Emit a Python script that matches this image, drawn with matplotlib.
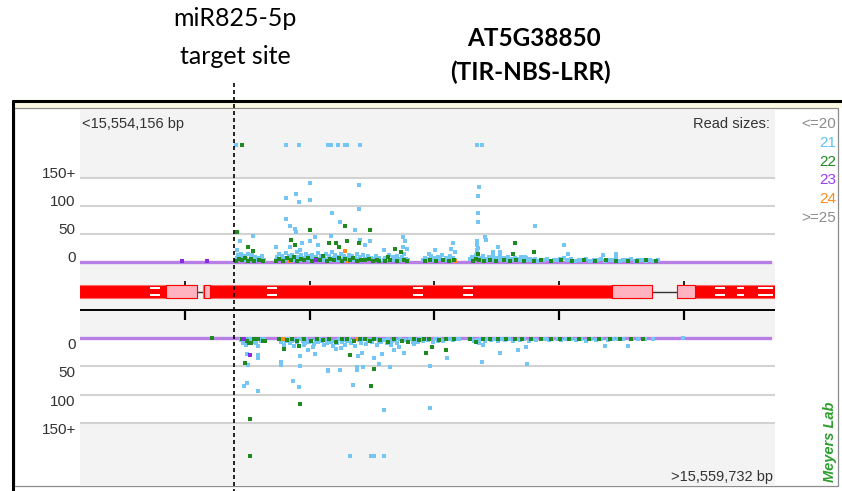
import matplotlib.pyplot as plt
import matplotlib.transforms as mtransforms
import numpy as np
from matplotlib.lines import Line2D
from matplotlib.patches import Rectangle

plt.rcParams["font.family"] = ["Liberation Sans", "DejaVu Sans"]

# ============================================================
# DATA
# ============================================================
CHROM_START = 15554156
CHROM_END = 15559732
TARGET_SITE = 15555394            # miR825-5p target site
X_TICKS = [15555000, 15556000, 15557000, 15558000, 15559000]
Y_TICKS = [0, 50, 100, 150]
Y_LABELS = ["0", "50", "100", "150+"]
CAP = 150                         # reads above this go in the "150+" row

# gene model AT5G38850, bp offsets from CHROM_START
EXON_START = [-10, 987, 4790]
EXON_END = [939, 4589, 5590]
UTR_START = [690, 995, 4268, 4790]
UTR_END = [939, 1043, 4589, 4934]
MARK_START = [562, 1500, 2672, 3070, 5095, 5271, 5440]
MARK_END = [642, 1580, 2752, 3150, 5175, 5327, 5560]

# plus strand, 21 nt (offset bp, reads)
PLUS_21_OFF = [
    1254, 1650, 1755, 1990, 2011, 2070, 2128, 2142, 2249, 3188, 3228,
    1843, 2236, 1735, 1655, 1757, 1843, 2022, 2238, 1650, 2084,
    1682, 1723, 1735, 2209, 1388, 1286, 1781, 1883, 1843, 2011,
    2244, 2284, 2329, 1575, 1909, 1763, 1682, 1262,
    3199, 3193, 3193, 3193, 2591, 2610, 2591, 2624, 2439, 2993,
    2974, 3011, 2851, 2798, 3247, 3260, 3188, 3188, 3188, 3354,
    3367, 3314, 3492, 3568, 3648, 3881, 3915, 4196, 4298,
    1250, 1262, 1270, 1281, 1290, 1300, 1312, 1322, 1335, 1346,
    1356, 1368, 1380, 1392, 1405, 1418, 1430, 1445, 1460, 1478,
    1570, 1582, 1595, 1606, 1618, 1630, 1641, 1652, 1664, 1676,
    1688, 1700, 1712, 1725, 1737, 1748, 1760, 1772, 1785, 1797,
    1810, 1822, 1835, 1847, 1860, 1872, 1885, 1897, 1910, 1922,
    1935, 1947, 1960, 1972, 1985, 1997, 2010, 2022, 2035, 2047,
    2060, 2072, 2085, 2097, 2110, 2122, 2135, 2147, 2160, 2172,
    2185, 2197, 2210, 2222, 2235, 2247, 2260, 2272, 2285, 2297,
    2310, 2322, 2335, 2347, 2360, 2372, 2385, 2398,
    2435, 2450, 2465, 2480, 2495, 2510, 2525, 2540, 2555, 2570,
    2585, 2600, 2615, 2628,
    2755, 2770, 2785, 2800, 2815, 2830, 2845, 2860, 2875, 2890,
    2905, 2920, 2935, 2950, 2965, 2980, 2995, 3010,
    3130, 3145, 3160, 3175, 3185, 3195, 3205, 3220, 3235, 3250,
    3265, 3280, 3295, 3310, 3325, 3340, 3355, 3370, 3385, 3400,
    3415, 3430, 3445, 3460, 3475, 3490, 3505, 3520, 3535, 3550,
    3565, 3580, 3595, 3608,
    3625, 3650, 3675, 3700, 3725, 3750, 3775, 3800, 3825, 3850,
    3880, 3910, 3940, 3970, 4000, 4030, 4060, 4090, 4120, 4150,
    4180, 4210, 4240, 4270, 4300, 4330, 4360, 4390, 4420, 4450,
    4480, 4510, 4540, 4570, 4600, 4640,
]
PLUS_21_READS = [
    200, 200, 200, 200, 200, 200, 200, 200, 200, 200, 200,
    141, 137, 121, 114, 106, 111, 87, 94, 77, 71,
    64, 58, 54, 57, 47, 38, 34, 44, 38, 47,
    40, 30, 38, 27, 30, 21, 27, 21,
    133, 117, 87, 71, 45, 37, 27, 24, 21, 34,
    24, 17, 21, 14, 45, 40, 37, 30, 21, 27,
    17, 17, 7, 9, 64, 30, 15, 12, 14,
    3, 8, 12, 5, 15, 9, 4, 11, 6, 14,
    3, 8, 12, 5, 9, 3, 7, 4, 10, 3,
    4, 9, 14, 6, 11, 3, 8, 16, 5, 10,
    3, 13, 7, 4, 18, 9, 5, 12, 3, 8,
    15, 6, 10, 4, 13, 7, 3, 9, 16, 5,
    11, 3, 8, 14, 5, 10, 4, 17, 7, 12,
    3, 9, 5, 15, 6, 11, 4, 8, 13, 5,
    10, 3, 7, 14, 5, 9, 3, 12, 6, 4,
    10, 5, 8, 3, 6, 11, 4, 7,
    3, 8, 5, 12, 4, 9, 3, 11, 6, 4,
    9, 14, 5, 3,
    4, 8, 3, 6, 10, 4, 7, 3, 9, 5,
    12, 4, 8, 3, 10, 5, 7, 3,
    5, 9, 4, 12, 18, 25, 8, 4, 10, 6,
    3, 9, 5, 11, 4, 8, 5, 10, 3, 7,
    4, 9, 3, 6, 4, 8, 3, 5, 9, 4,
    3, 7, 4, 6,
    3, 5, 2, 4, 3, 6, 2, 4, 3, 5,
    8, 3, 5, 2, 4, 3, 5, 2, 4, 3,
    6, 2, 4, 3, 7, 2, 4, 3, 5, 2,
    3, 4, 2, 3, 2, 3,
]

# plus strand, 22 nt
PLUS_22_OFF = [
    1302, 2124, 1843, 2329, 1260, 1348, 1388, 1695, 1995, 2056,
    2076, 2142, 2238, 1723, 2525, 2573, 2471, 3193, 3488, 3474, 3643,
    1255, 1275, 1300, 1320, 1350, 1375, 1400, 1440, 1470,
    1575, 1600, 1625, 1660, 1690, 1715, 1745, 1770, 1800, 1830,
    1865, 1890, 1925, 1950, 1980, 2005, 2040, 2075, 2100, 2130,
    2165, 2190, 2220, 2255, 2290, 2320, 2350, 2380, 2400,
    2445, 2490, 2540, 2600, 2620,
    2765, 2810, 2860, 2910, 2960, 3000,
    3150, 3180, 3200, 3240, 3290, 3340, 3400, 3450, 3500, 3560,
    3640, 3700, 3780, 3860, 3950, 4040, 4130, 4220, 4300, 4400,
    4470, 4540, 4620,
]
PLUS_22_READS = [
    200, 64, 57, 57, 54, 27, 20, 40, 33, 33,
    27, 37, 34, 30, 24, 17, 9, 14, 34, 14, 17,
    2, 6, 3, 8, 2, 5, 2, 3, 2,
    2, 5, 2, 7, 3, 9, 2, 6, 3, 8,
    2, 5, 3, 10, 2, 6, 3, 8, 2, 5,
    3, 7, 2, 4, 3, 6, 2, 4, 2,
    2, 4, 2, 3, 2,
    2, 4, 2, 3, 2, 3,
    2, 6, 3, 2, 4, 2, 3, 2, 4, 2,
    2, 3, 2, 3, 2, 3, 2, 3, 2, 2,
    2, 3, 2,
]

PLUS_23_OFF = [821, 1021, 1895]
PLUS_23_READS = [1, 2, 3]
PLUS_24_OFF = [2124, 1255, 1680, 2030, 2142, 3010]
PLUS_24_READS = [20, 1, 2, 3, 2, 2]

# minus strand, 21 nt
MINUS_21_OFF = [
    2164, 2332, 2356, 2439,
    2437, 2806, 1709, 1755, 1340, 1316, 1428, 2190, 1348, 1342,
    1428, 1428, 1615, 1615, 1763, 1763, 1990, 1990, 2084, 2225,
    2225, 2271, 2485, 2396, 2230, 2262, 2356, 2423, 2519, 2559,
    2600, 2810, 2947, 1428, 3228, 3367, 3514, 3586, 3576, 3233,
    4210, 4397, 1800, 1830, 1870, 1885, 2050, 2090, 2492, 2680,
    1290, 1305, 1320, 1335, 1350, 1365, 1380, 1395, 1410, 1440, 1455, 1475,
    1595, 1610, 1625, 1640, 1655, 1670, 1685, 1700, 1715, 1730, 1745, 1760,
    1790, 1805, 1815, 1840, 1855, 1878, 1895, 1910, 1925, 1940,
    1955, 1970, 1985, 2000, 2015, 2030, 2045, 2060, 2075, 2100,
    2115, 2130, 2145, 2160, 2175, 2195, 2210, 2240, 2255, 2280,
    2295, 2310, 2325, 2345, 2370, 2385, 2400, 2415, 2440, 2460,
    2475, 2500, 2530, 2545, 2570, 2585, 2610, 2650, 2670, 2690,
    2710, 2730, 2750, 2790, 2830, 2850, 2870, 2890, 2910, 2960,
    2990, 3020, 3040,
    3140, 3160, 3185, 3200, 3215, 3250, 3275, 3300, 3330, 3355,
    3380, 3410, 3440, 3470, 3500, 3530, 3560, 3600, 3630, 3660,
    3700, 3730, 3760, 3790, 3830, 3860, 3900, 3940, 3980, 4020,
    4060, 4100, 4140, 4180, 4240, 4280, 4320, 4360, 4430, 4480,
    4530, 4600, 4834,
]
MINUS_21_READS = [
    200, 200, 200, 200,
    126, 123, 76, 86, 79, 85, 93, 83, 47, 28,
    30, 36, 42, 47, 49, 32, 57, 59, 56, 52,
    56, 52, 52, 46, 32, 27, 36, 29, 22, 17,
    27, 49, 36, 14, 43, 27, 22, 46, 17, 12,
    14, 14, 12, 22, 17, 28, 20, 18, 12, 11,
    4, 9, 3, 12, 6, 2, 8, 4, 10, 3, 5, 2,
    3, 8, 4, 12, 6, 3, 9, 5, 14, 4, 8, 3,
    5, 10, 3, 7, 4, 11, 5, 8, 3, 6,
    12, 4, 9, 3, 7, 14, 5, 10, 3, 8,
    4, 12, 6, 3, 9, 5, 14, 4, 9, 3,
    11, 6, 4, 8, 3, 12, 5, 8, 4, 10,
    3, 6, 4, 9, 3, 6, 4, 3, 7, 4,
    8, 3, 5, 4, 7, 3, 5, 2, 6, 3,
    4, 2, 3,
    3, 6, 4, 9, 3, 5, 2, 4, 3, 5,
    2, 4, 3, 5, 2, 4, 3, 5, 2, 4,
    3, 2, 4, 3, 2, 4, 3, 2, 4, 3,
    5, 2, 4, 3, 4, 2, 3, 2, 3, 2,
    3, 2, 1,
]

# minus strand, 22 nt
MINUS_22_OFF = [
    1362, 1362, 1763, 2337, 1321, 2164, 2778, 2824, 2934, 1637,
    1755, 1468, 2632, 3180, 2356, 1356, 1488,
    1057, 1300, 1340, 1372, 1400, 1428, 1600, 1660, 1700, 1740,
    1800, 1850, 1900, 1950, 2000, 2050, 2100, 2140, 2200, 2250,
    2290, 2330, 2360, 2410, 2471, 2520, 2580, 2680, 2720, 2760,
    2800, 2880, 2940, 3000, 3130, 3230, 3290, 3350, 3420, 3490,
    3550, 3620, 3700, 3780, 3850, 3920, 4000, 4080, 4160, 4250,
    4330, 4420, 4520,
]
MINUS_22_READS = [
    200, 142, 116, 85, 45, 30, 27, 17, 22, 19,
    15, 6, 8, 8, 54, 10, 6,
    1, 2, 6, 10, 3, 2, 2, 4, 2, 5,
    3, 6, 2, 4, 2, 7, 3, 2, 5, 3,
    2, 6, 2, 4, 8, 2, 5, 2, 4, 2,
    3, 4, 2, 3, 3, 2, 3, 2, 3, 2,
    3, 2, 3, 2, 3, 2, 3, 2, 3, 2,
    3, 2, 2,
]

MINUS_23_OFF = [1362, 1316]
MINUS_23_READS = [31, 3]
MINUS_24_OFF = [1628, 2230, 2519, 1900]
MINUS_24_READS = [2, 2, 2, 3]

LEGEND_LABELS = ["<=20", "21", "22", "23", "24", ">=25"]

# ============================================================
# STYLE / GEOMETRY (pixels of the 842x491 picture)
# ============================================================
W, H = 842, 491
PANEL = "#f3f3f3"
GRID = "#d2d2d2"
BASE = "#b77fe6"
C21 = "#74c6f4"
C22 = "#1f8a1f"
C23 = "#8a2be2"
C24 = "#ff8c1e"
LABEL = "#333333"
LEGEND_COLORS = ["#8c8c8c", "#5fc4f5", "#1e8c1e", "#9b3bf5", "#ff8a1c", "#8c8c8c"]
RED = "#ff0000"
PINK = "#ffb3c0"
CAP_ROW = 208          # where the "150+" reads are drawn
TITLE_FONT = ["Lato", "DejaVu Sans"]


def px_box(x0, y0, x1, y1):
    return [x0 / W, 1 - y1 / H, (x1 - x0) / W, (y1 - y0) / H]


def pixel_axes(zorder):
    ax = fig.add_axes([0, 0, 1, 1], zorder=zorder)
    ax.set_xlim(0, W)
    ax.set_ylim(H, 0)
    ax.axis("off")
    return ax


def clean(ax):
    ax.set_facecolor(PANEL)
    ax.set_xlim(CHROM_START, CHROM_END)
    ax.set_xticks([])
    ax.set_yticks([])
    for s in ax.spines.values():
        s.set_visible(False)


def setup_strand(ax, ylim, va):
    clean(ax)
    ax.set_ylim(*ylim)
    ax.axhspan(0, CAP, color="white", lw=0, zorder=0)
    for v in Y_TICKS[1:]:
        ax.axhline(v, color=GRID, lw=1.5, zorder=1)
    ax.axhline(0, xmax=0.993, color=BASE, lw=2.4, zorder=2)
    tr = mtransforms.blended_transform_factory(ax.transAxes, ax.transData)
    for v, lab in zip(Y_TICKS, Y_LABELS):
        ax.text(-0.006, v, lab, transform=tr, ha="right", va=va,
                fontsize=11, color=LABEL)


def draw_reads(ax, off, reads, color, z):
    x = CHROM_START + np.asarray(off)
    y = np.asarray(reads, dtype=float)
    y = np.where(y > CAP, CAP_ROW, y)
    ax.scatter(x, y, s=7.5, marker="s", color=color, linewidths=0, zorder=z)


fig = plt.figure(figsize=(W / 100, H / 100), dpi=100)

# ---- frame of the browser screenshot
bg = pixel_axes(0)
bg.add_patch(Rectangle((14, 101), 828, 7, facecolor="#fbf8e3", lw=0))
bg.add_patch(Rectangle((14, 108), 824, 378, facecolor="white",
                       edgecolor="#8c8c8c", lw=0.9))
bg.plot([12, 842], [101, 101], color="black", lw=2.2, solid_capstyle="butt")
bg.plot([12.7, 12.7], [100, 491], color="black", lw=2.2, solid_capstyle="butt")

# ---- plus strand
ax_p = fig.add_axes(px_box(80, 110, 775, 281), zorder=1)
setup_strand(ax_p, (-33.8, 270.4), "baseline")
draw_reads(ax_p, PLUS_21_OFF, PLUS_21_READS, C21, 3)
draw_reads(ax_p, PLUS_24_OFF, PLUS_24_READS, C24, 4)
draw_reads(ax_p, PLUS_22_OFF, PLUS_22_READS, C22, 5)
draw_reads(ax_p, PLUS_23_OFF, PLUS_23_READS, C23, 6)

# ---- gene model + coordinate scale (y in picture pixels)
ax_g = fig.add_axes(px_box(80, 281, 775, 330), zorder=1)
clean(ax_g)
ax_g.set_ylim(330, 281)
for i in range(len(EXON_START) - 1):
    ax_g.plot([CHROM_START + EXON_END[i], CHROM_START + EXON_START[i + 1]],
              [291.5, 291.5], color="#333333", lw=1, zorder=1)
for s, e in zip(EXON_START, EXON_END):
    ax_g.add_patch(Rectangle((CHROM_START + s, 285), e - s, 13,
                             facecolor=RED, edgecolor="#ff6b6b", lw=0.8, zorder=2))
for s, e in zip(UTR_START, UTR_END):
    ax_g.add_patch(Rectangle((CHROM_START + s, 285), e - s, 13,
                             facecolor=PINK, edgecolor=RED, lw=0.8, zorder=3))
for s, e in zip(MARK_START, MARK_END):
    for y0 in (287, 293.6):
        ax_g.add_patch(Rectangle((CHROM_START + s, y0), e - s, 2.4,
                                 facecolor="white", lw=0, zorder=4))
ax_g.axhline(310, color="black", lw=1.4)
ax_g.vlines(X_TICKS, 310, 320, color="black", lw=1.6)
ax_g.vlines(X_TICKS, 281, 285, color="black", lw=1.2)

# ---- minus strand (reads grow downwards)
ax_m = fig.add_axes(px_box(80, 330, 775, 486), zorder=1)
setup_strand(ax_m, (259.8, -13.5), "top")
draw_reads(ax_m, MINUS_21_OFF, MINUS_21_READS, C21, 3)
draw_reads(ax_m, MINUS_24_OFF, MINUS_24_READS, C24, 4)
draw_reads(ax_m, MINUS_22_OFF, MINUS_22_READS, C22, 5)
draw_reads(ax_m, MINUS_23_OFF, MINUS_23_READS, C23, 6)

# ---- browser texts, on top of the panels
fg = pixel_axes(5)
fg.text(82, 124, f"<{CHROM_START:,} bp", ha="left", va="center",
        fontsize=10.5, color=LABEL)
fg.text(773, 477, f">{CHROM_END:,} bp", ha="right", va="center",
        fontsize=10.5, color=LABEL)
fg.text(770, 124, "Read sizes:", ha="right", va="center",
        fontsize=10.5, color=LABEL)
for i, (lab, col) in enumerate(zip(LEGEND_LABELS, LEGEND_COLORS)):
    fg.text(836.5, 124 + i * 18.8, lab, ha="right", va="center",
            fontsize=11, color=col)
fg.text(830, 442, "Meyers Lab", rotation=90, ha="center", va="center",
        fontsize=10.5, color="#2e9e2e", fontweight="bold", style="italic")

# ---- annotation above the screenshot
fg.text(235, 26, "miR825-5p", ha="center", va="baseline",
        fontsize=18, family=TITLE_FONT)
fg.text(235, 64, "target site", ha="center", va="baseline",
        fontsize=18, family=TITLE_FONT)
fg.text(534, 46, "AT5G38850", ha="center", va="baseline",
        fontsize=17.5, fontweight="bold", family=TITLE_FONT)
fg.text(530, 80, "(TIR-NBS-LRR)", ha="center", va="baseline",
        fontsize=17.5, fontweight="bold", family=TITLE_FONT)

# dashed line at the target site, through the whole picture
xt = ax_p.transData.transform((TARGET_SITE, 0))[0] / W
fg.add_line(Line2D([xt, xt], [1 - 83 / H, 0], transform=fig.transFigure,
                   color="black", lw=1.2, ls=(0, (2.4, 1.8))))

fig.savefig("out.png", dpi=100, facecolor="white")
